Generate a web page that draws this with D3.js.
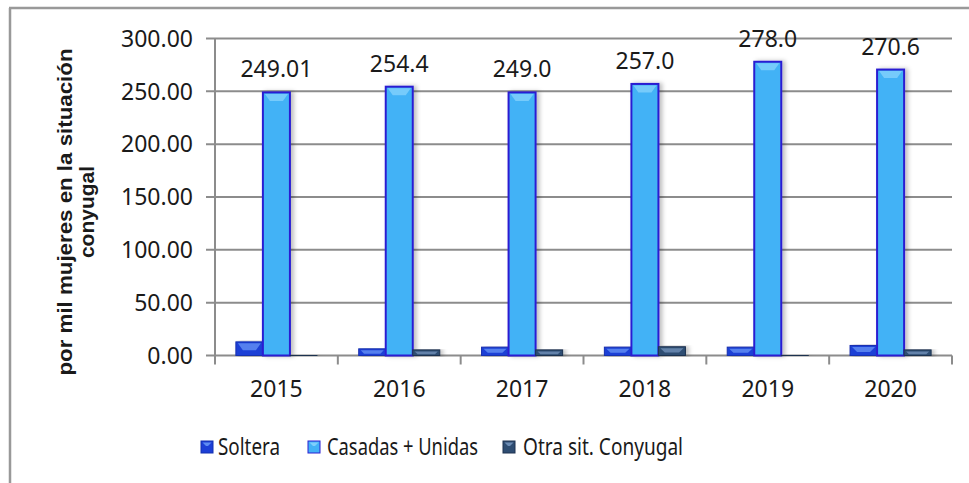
<!DOCTYPE html>
<html>
<head>
<meta charset="utf-8">
<script src="https://cdn.jsdelivr.net/npm/d3@7"></script>
<style>
  body { margin: 0; background: #fff; }
  svg text { font-family: "Noto Sans", "Open Sans", sans-serif; fill: #1a1a1a; }
</style>
</head>
<body>
<div id="chart"></div>
<script>
// data
const years = ["2015", "2016", "2017", "2018", "2019", "2020"];
const series = ["Soltera", "Casadas + Unidas", "Otra sit. Conyugal"];
const soltera = [12.9, 6.3, 7.9, 7.9, 7.9, 9.5];
const casadas = [249.01, 254.4, 249.0, 257.0, 278.0, 270.6];
const otra = [0.4, 5.3, 5.3, 8.3, 0.4, 5.3];
const casadasLabels = ["249.01", "254.4", "249.0", "257.0", "278.0", "270.6"];
const yTicks = [0, 50, 100, 150, 200, 250, 300];

const W = 969, H = 483;
const svg = d3.select("#chart").append("svg")
    .attr("width", W)
    .attr("height", H);

// soft shadow for bars
const defs = svg.append("defs");
const f = defs.append("filter").attr("id", "shadow")
    .attr("x", "-30%").attr("y", "-10%").attr("width", "160%").attr("height", "120%");
f.append("feDropShadow").attr("dx", 3).attr("dy", 0).attr("stdDeviation", 2)
    .attr("flood-color", "#000").attr("flood-opacity", 0.25);

// outer frame (left + top only)
svg.append("line").attr("x1", 10).attr("x2", 10).attr("y1", 8).attr("y2", H)
    .attr("stroke", "#999").attr("stroke-width", 2.5);
svg.append("line").attr("x1", 9).attr("x2", W).attr("y1", 8).attr("y2", 8)
    .attr("stroke", "#999").attr("stroke-width", 2.5);

const plot = {left: 215, right: 952, top: 38.5, bottom: 355.5};

const y = d3.scaleLinear().domain([0, 300]).range([plot.bottom, plot.top]);
const x0 = d3.scaleBand().domain(years).range([plot.left, plot.right])
    .paddingInner(0.34).paddingOuter(0.17);
const x1 = d3.scaleBand().domain(series).range([0, x0.bandwidth()]);

// gridlines + y tick labels
const grid = svg.append("g");
grid.selectAll("line").data(yTicks).enter().append("line")
    .attr("x1", plot.left - 9).attr("x2", plot.right)
    .attr("y1", d => y(d)).attr("y2", d => y(d))
    .attr("stroke", "#8c8c8c").attr("stroke-width", 2);
grid.selectAll("text").data(yTicks).enter().append("text")
    .attr("x", 193).attr("y", d => y(d))
    .attr("dy", "0.36em")
    .attr("text-anchor", "end")
    .style("font-size", "23px")
    .text(d => d3.format(".2f")(d));

// y axis line
svg.append("line").attr("x1", plot.left).attr("x2", plot.left)
    .attr("y1", plot.top).attr("y2", plot.bottom)
    .attr("stroke", "#8c8c8c").attr("stroke-width", 2);

// x axis ticks at category boundaries
const step = x0.step();
const bounds = d3.range(years.length + 1).map(i => plot.left + i * step);
svg.append("g").selectAll("line").data(bounds).enter().append("line")
    .attr("x1", d => d).attr("x2", d => d)
    .attr("y1", plot.bottom).attr("y2", plot.bottom + 9)
    .attr("stroke", "#8c8c8c").attr("stroke-width", 2);

svg.append("g").selectAll("text").data(years).enter().append("text")
    .attr("x", d => x0(d) + x0.bandwidth() / 2)
    .attr("y", 389)
    .attr("dy", "0.36em")
    .attr("text-anchor", "middle")
    .style("font-size", "23px")
    .text(d => d);

// bars
const styles = {
    "Soltera": {fill: "#1d3fd6", stroke: "#1530b0", hi: "#5f8cf2"},
    "Casadas + Unidas": {fill: "#42b2f6", stroke: "#2b1fd2", hi: "#7fcffc"},
    "Otra sit. Conyugal": {fill: "#2e4d72", stroke: "#1e3350", hi: "#6c8cb4"}
};
const rows = [];
years.forEach((yr, i) => {
    rows.push({year: yr, s: series[0], v: soltera[i]});
    rows.push({year: yr, s: series[1], v: casadas[i]});
    rows.push({year: yr, s: series[2], v: otra[i]});
});

const bars = svg.append("g").selectAll("g").data(rows).enter().append("g")
    .attr("transform", d => `translate(${x0(d.year) + x1(d.s)},0)`);

bars.append("rect")
    .attr("x", 0)
    .attr("y", d => y(d.v))
    .attr("width", x1.bandwidth())
    .attr("height", d => plot.bottom - y(d.v))
    .attr("fill", d => styles[d.s].fill)
    .attr("stroke", d => styles[d.s].stroke)
    .attr("stroke-width", d => d.s === series[1] ? 2 : 1)
    .attr("filter", "url(#shadow)");

// bevel highlight on top of each bar
bars.append("path")
    .attr("d", d => {
        const w = x1.bandwidth();
        const h = Math.min(7, (plot.bottom - y(d.v)) / 2);
        const t = y(d.v) + 1.5;
        const inset = Math.min(5, h);
        return `M2,${t} L${w - 2},${t} L${w - 2 - inset},${t + h} L${2 + inset},${t + h} Z`;
    })
    .attr("fill", d => styles[d.s].hi)
    .attr("opacity", d => (plot.bottom - y(d.v)) > 2 ? 0.85 : 0);

// value labels over Casadas
svg.append("g").selectAll("text").data(years).enter().append("text")
    .attr("x", (d, i) => x0(d) + x1(series[1]) + x1.bandwidth() / 2)
    .attr("y", (d, i) => y(casadas[i]) - 15)
    .attr("text-anchor", "middle")
    .style("font-size", "23px")
    .text((d, i) => casadasLabels[i]);

// y axis title
const title = svg.append("text")
    .attr("transform", "translate(72,212) rotate(-90)")
    .attr("text-anchor", "middle")
    .style("font-family", "'Liberation Sans', Arial, sans-serif")
    .style("font-weight", "bold")
    .style("font-size", "21px");
title.append("tspan").attr("x", 0).attr("y", 0)
    .attr("textLength", 327).attr("lengthAdjust", "spacingAndGlyphs")
    .text("por mil mujeres en la situación");
title.append("tspan").attr("x", 0).attr("y", 22)
    .text("conyugal");

// legend
const legendX = [201, 308, 503];
const legendW = [62, 151, 160];
const legend = svg.append("g").selectAll("g").data(series).enter().append("g")
    .attr("transform", (d, i) => `translate(${legendX[i]},441)`);
legend.append("rect")
    .attr("width", 12).attr("height", 12)
    .attr("fill", d => styles[d].fill)
    .attr("stroke", d => styles[d].stroke)
    .attr("stroke-width", 1);
legend.append("path")
    .attr("d", "M1.5,1.5 L10.5,1.5 L7,5 L5,5 Z")
    .attr("fill", d => styles[d].hi);
legend.append("text")
    .attr("x", (d, i) => i === 0 ? 17 : (i === 1 ? 19 : 20)).attr("y", 6)
    .attr("dy", "0.36em")
    .attr("textLength", (d, i) => legendW[i])
    .attr("lengthAdjust", "spacingAndGlyphs")
    .style("font-size", "23px")
    .text(d => d);
</script>
</body>
</html>
